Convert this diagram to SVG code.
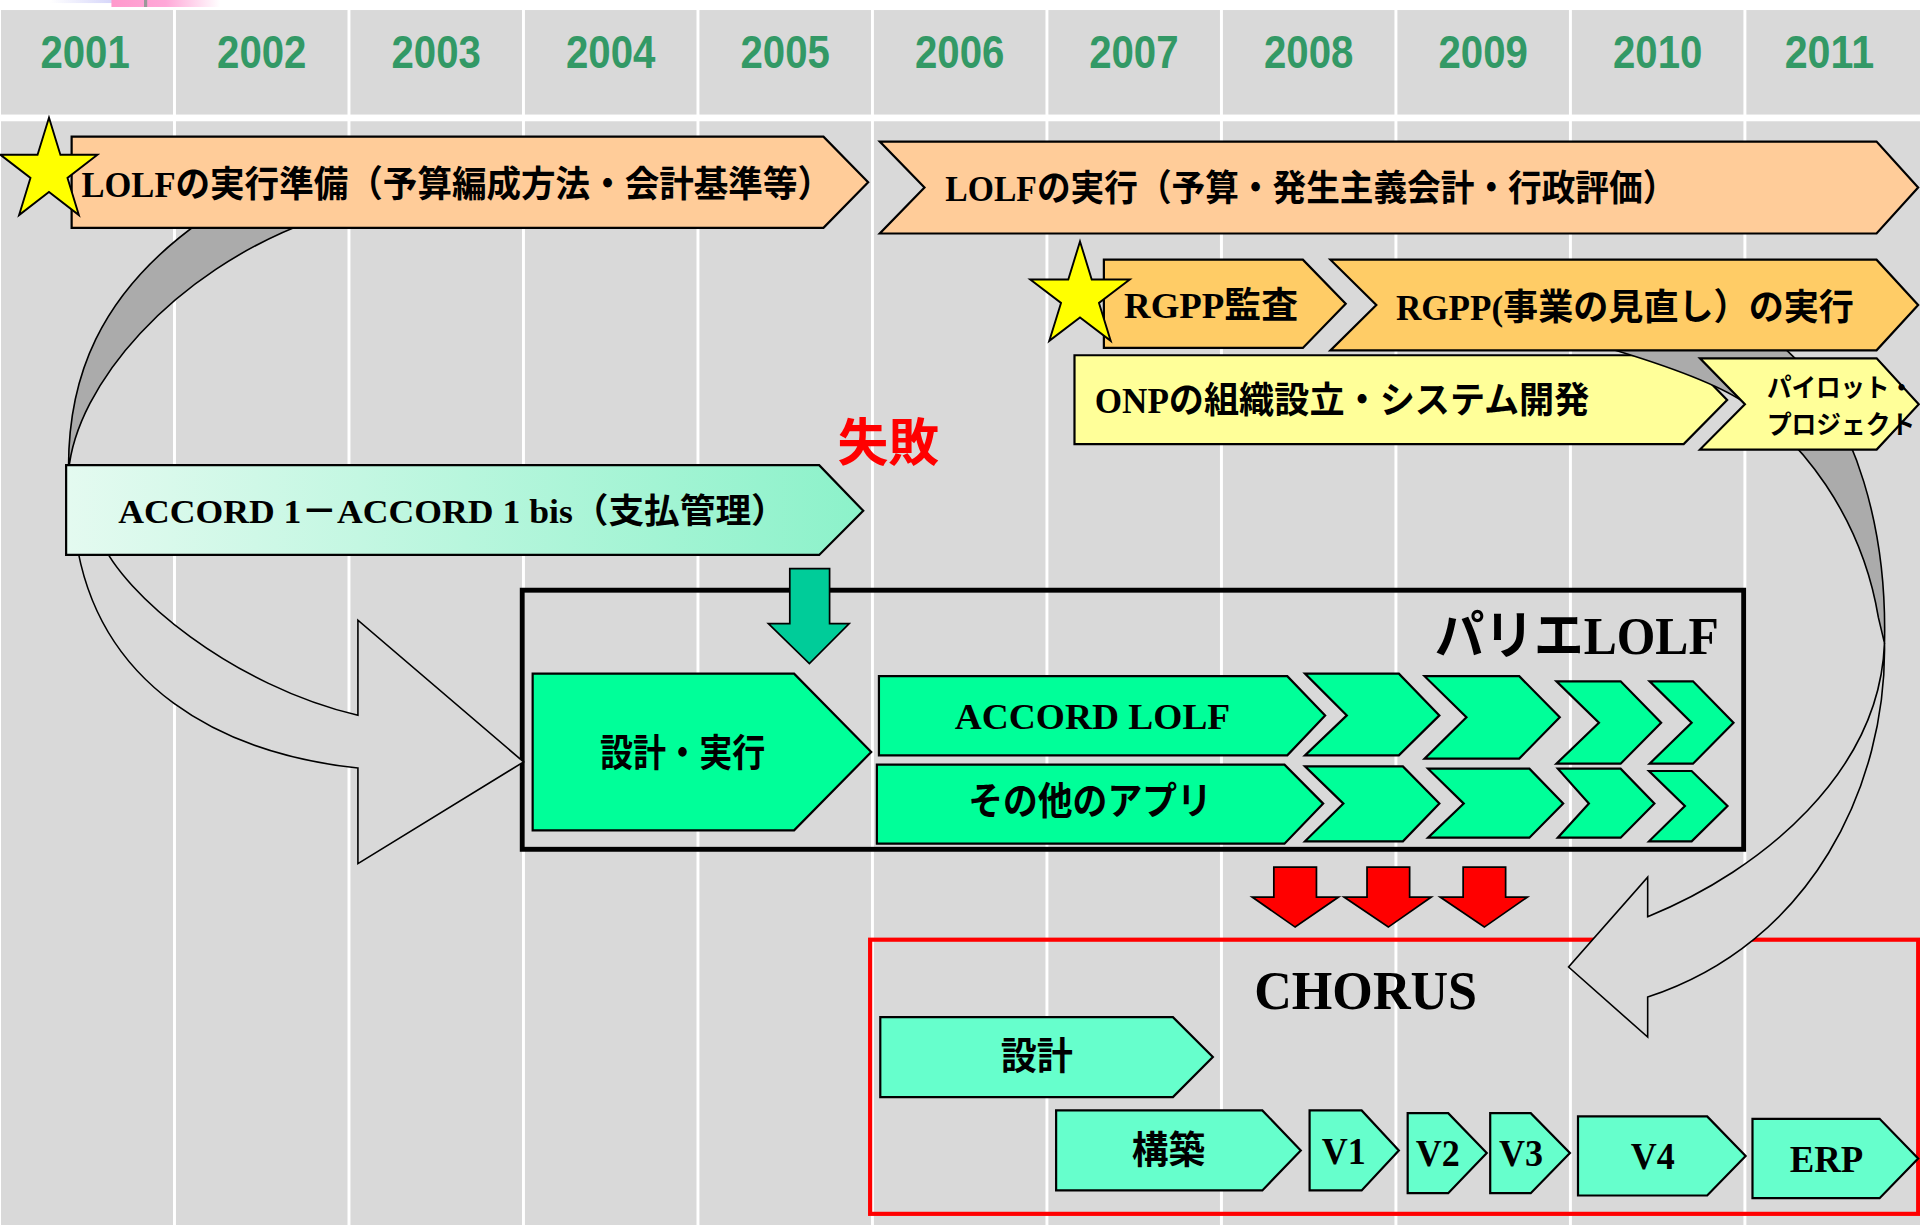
<svg xmlns="http://www.w3.org/2000/svg" width="1920" height="1225" viewBox="0 0 1920 1225">
<defs>
<style>
.grid{fill:#D9D9D9}
.vl{fill:#FFFFFF}
.yr{font-family:'Liberation Sans',Arial,sans-serif;font-weight:bold;font-size:38.5px;fill:#339966;text-anchor:middle}
.t{font-family:'Liberation Serif','Noto Sans CJK JP',serif;font-weight:bold;fill:#000}
.j{font-family:'Noto Sans CJK JP',sans-serif;font-weight:bold;fill:#000}
.sh{stroke:#000;stroke-width:1.8;stroke-linejoin:miter}
.org{fill:#FFCC99}
.rg{fill:#FFCC66}
.yel{fill:#FFFF99}
.grn{fill:#00FF99}
.mint{fill:#66FFCC}
.cres{fill:#ABABAB;stroke:#000;stroke-width:1.3;stroke-linejoin:round}
.band{fill:#D9D9D9;stroke:#000;stroke-width:1.3;stroke-linejoin:miter}
.star{fill:#FFFF00;stroke:#000;stroke-width:1.6}
.redarr{fill:#FF0000;stroke:#000;stroke-width:1.4}
</style>
<linearGradient id="accg" x1="0" y1="0" x2="1" y2="0">
<stop offset="0" stop-color="#E4FAF0"/>
<stop offset="1" stop-color="#8CF2CA"/>
</linearGradient>
<linearGradient id="lav" x1="0" y1="0" x2="1" y2="0">
<stop offset="0" stop-color="#FFFFFF"/>
<stop offset="1" stop-color="#C8C8F8"/>
</linearGradient>
<linearGradient id="pink" x1="0" y1="0" x2="1" y2="0">
<stop offset="0" stop-color="#FF99CC"/>
<stop offset="0.5" stop-color="#FFA8D8"/>
<stop offset="1" stop-color="#FFFFFF"/>
</linearGradient>
<path id="starp" d="M0,-44 L9.87,-13.59 L41.85,-13.6 L15.98,5.19 L25.86,35.6 L0,16.8 L-25.86,35.6 L-15.98,5.19 L-41.85,-13.6 L-9.87,-13.59 Z"/>
</defs>
<rect x="0" y="0" width="1920" height="1225" fill="#FFFFFF"/>
<g transform="scale(1.22449 1.225)">
<g id="background">
<rect x="41" y="0" width="68" height="2.5" fill="url(#lav)"/>
<rect x="91" y="0" width="89" height="5.7" fill="url(#pink)"/>
<rect x="117.6" y="0" width="2.6" height="5.7" fill="#999999"/>
<rect class="grid" x="0.8" y="8.2" width="1567.2" height="85.3"/>
<rect class="grid" x="0.8" y="99" width="1567.2" height="901"/>
<rect class="vl" x="141.3" y="8" width="2.4" height="992"/>
<rect class="vl" x="283.8" y="8" width="2.4" height="992"/>
<rect class="vl" x="426.3" y="8" width="2.4" height="992"/>
<rect class="vl" x="568.8" y="8" width="2.4" height="992"/>
<rect class="vl" x="711.3" y="8" width="2.4" height="992"/>
<rect class="vl" x="853.8" y="8" width="2.4" height="992"/>
<rect class="vl" x="996.3" y="8" width="2.4" height="992"/>
<rect class="vl" x="1138.8" y="8" width="2.4" height="992"/>
<rect class="vl" x="1281.3" y="8" width="2.4" height="992"/>
<rect class="vl" x="1423.8" y="8" width="2.4" height="992"/>
</g>
<g id="years">
<text class="yr" x="69.5" y="55.6" textLength="73" lengthAdjust="spacingAndGlyphs">2001</text>
<text class="yr" x="213.75" y="55.6" textLength="73" lengthAdjust="spacingAndGlyphs">2002</text>
<text class="yr" x="356.25" y="55.6" textLength="73" lengthAdjust="spacingAndGlyphs">2003</text>
<text class="yr" x="498.75" y="55.6" textLength="73" lengthAdjust="spacingAndGlyphs">2004</text>
<text class="yr" x="641.25" y="55.6" textLength="73" lengthAdjust="spacingAndGlyphs">2005</text>
<text class="yr" x="783.75" y="55.6" textLength="73" lengthAdjust="spacingAndGlyphs">2006</text>
<text class="yr" x="926" y="55.6" textLength="73" lengthAdjust="spacingAndGlyphs">2007</text>
<text class="yr" x="1068.75" y="55.6" textLength="73" lengthAdjust="spacingAndGlyphs">2008</text>
<text class="yr" x="1211.25" y="55.6" textLength="73" lengthAdjust="spacingAndGlyphs">2009</text>
<text class="yr" x="1353.75" y="55.6" textLength="73" lengthAdjust="spacingAndGlyphs">2010</text>
<text class="yr" x="1494" y="55.6" textLength="73" lengthAdjust="spacingAndGlyphs">2011</text>
</g>
<g id="chorus-frame">
<rect x="710.6" y="767.1" width="855.9" height="223.8" fill="none" stroke="#FF0000" stroke-width="3.4"/>
<text class="t" x="1024.3" y="823.5" font-size="45" textLength="182" lengthAdjust="spacingAndGlyphs">CHORUS</text>
</g>
<g id="parie-lolf-frame">
<rect x="426.5" y="481.8" width="997.5" height="211.5" fill="none" stroke="#000" stroke-width="4"/>
<text class="t" x="1171.7" y="533.5" font-size="43" textLength="232" lengthAdjust="spacingAndGlyphs">パリエLOLF</text>
</g>
<g id="onp">
<polygon class="sh yel" points="877.5,290 1375,290 1410.5,326.5 1375,362.5 877.5,362.5"/>
<text class="t" x="894" y="337.5" font-size="30" textLength="404" lengthAdjust="spacingAndGlyphs">ONPの組織設立・システム開発</text>
</g>
<g id="connectors">
<path class="cres" d="M165,180 C80,240 55,310 56,385 C62,315 140,222 255,180 Z"/>
<path class="band" d="M62,440 C80,560 180,615 292.3,627 L292.3,705 L427.6,622 L292.3,506.3 L292.3,583.9 C190,560 100,485 82,440 Z"/>
<path class="cres" d="M1313,284 C1360,298 1400,312 1424,328 C1470,358 1520,420 1534,504 L1539,525 C1541,440 1520,340 1455,282 Z"/>
<path class="band" d="M1539,525 C1541,640 1480,770 1345.6,813.9 L1345.6,846.6 L1281,789.4 L1345.6,716 L1345.6,748.3 C1440,710 1535,630 1539,525 Z"/>
<polygon fill="#00CC99" stroke="#000" stroke-width="1.4" points="645,464.1 677.5,464.1 677.5,509 693.5,509 661,541.7 627.5,509 645,509"/>
<polygon class="redarr" points="1040.3,707.8 1075.1,707.8 1075.1,732.3 1093.2,732.3 1057.7,756.8 1022.6,732.3 1040.3,732.3"/>
<polygon class="redarr" points="1116.4,707.8 1151.2,707.8 1151.2,732.3 1168.9,732.3 1133.8,756.8 1097.6,732.3 1116.4,732.3"/>
<polygon class="redarr" points="1194.9,707.8 1229.6,707.8 1229.6,732.3 1247.4,732.3 1212.2,756.8 1176.1,732.3 1194.9,732.3"/>
</g>
<g id="lolf-prep">
<polygon class="sh org" points="58.5,111.6 672.5,111.6 709,148.8 672.5,186 58.5,186"/>
<text class="t" x="66.5" y="161" font-size="30" textLength="613" lengthAdjust="spacingAndGlyphs">LOLFの実行準備（予算編成方法・会計基準等）</text>
</g>
<g id="star-2001">
<use href="#starp" class="star" transform="translate(40 140) scale(0.945 1)"/>
</g>
<g id="lolf-exec">
<polygon class="sh org" points="718.5,115.6 1532.5,115.6 1566.5,153 1532.5,190.6 718.5,190.6 755,153"/>
<text class="t" x="772" y="164" font-size="30" textLength="597" lengthAdjust="spacingAndGlyphs">LOLFの実行（予算・発生主義会計・行政評価）</text>
</g>
<g id="rgpp-audit">
<polygon class="sh rg" points="901.5,212 1064,212 1099,248 1064,284 901.5,284"/>
<text class="t" x="918" y="259.5" font-size="30" textLength="142" lengthAdjust="spacingAndGlyphs">RGPP監査</text>
</g>
<g id="star-2007">
<use href="#starp" class="star" transform="translate(882 242) scale(0.97 1.02)"/>
</g>
<g id="rgpp-exec">
<polygon class="sh rg" points="1086.5,212 1532.5,212 1566.5,249 1532.5,286 1086.5,286 1124,249"/>
<text class="t" x="1140" y="261" font-size="30" textLength="374" lengthAdjust="spacingAndGlyphs">RGPP(事業の見直し）の実行</text>
</g>
<g id="pilot">
<polygon class="sh yel" points="1388.3,292.5 1532.6,292.5 1567,330 1532.6,367 1388.3,367 1425,330"/>
<text class="j" x="1443" y="324" font-size="21" textLength="120" lengthAdjust="spacingAndGlyphs">パイロット・</text>
<text class="j" x="1443" y="354" font-size="21" textLength="121" lengthAdjust="spacingAndGlyphs">プロジェクト</text>
</g>
<g id="accord1">
<polygon class="sh" fill="url(#accg)" points="54,379.7 669,379.7 705,417 669,453 54,453"/>
<text class="t" x="96.5" y="426.6" font-size="28" textLength="546" lengthAdjust="spacingAndGlyphs">ACCORD 1－ACCORD 1 bis（支払管理）</text>
</g>
<g id="failure">
<text class="j" x="684" y="376" font-size="42" textLength="83" lengthAdjust="spacingAndGlyphs" style="fill:#FF0000">失敗</text>
</g>
<g id="design-exec">
<polygon class="sh grn" points="435,549.9 648.5,549.9 711.5,613.9 648.5,677.8 435,677.8"/>
<text class="t" x="490" y="625.5" font-size="31" textLength="135" lengthAdjust="spacingAndGlyphs">設計・実行</text>
</g>
<g id="accord-lolf">
<polygon class="sh grn" points="717.8,552 1051.3,552 1082.2,584 1051.3,616.6 717.8,616.6"/>
<text class="t" x="779.7" y="594.8" font-size="30" textLength="225" lengthAdjust="spacingAndGlyphs">ACCORD LOLF</text>
<polygon class="sh grn" points="1065.7,549.9 1142.4,549.9 1175.5,584 1142.4,616.6 1065.7,616.6 1099.9,584"/>
<polygon class="sh grn" points="1163.4,552 1240.7,552 1273.8,585.5 1240.7,619.3 1163.4,619.3 1197.6,585.5"/>
<polygon class="sh grn" points="1271.1,556.2 1323.5,556.2 1356.6,590 1323.5,623.4 1271.1,623.4 1305.8,590"/>
<polygon class="sh grn" points="1347.2,556.2 1382.6,556.2 1415.7,590 1382.6,623.4 1347.2,623.4 1381.5,590"/>
</g>
<g id="other-apps">
<polygon class="sh grn" points="716.1,624.2 1049,624.2 1080.6,656 1049,688.7 716.1,688.7"/>
<text class="t" x="790.7" y="664.5" font-size="31" textLength="199" lengthAdjust="spacingAndGlyphs">その他のアプリ</text>
<polygon class="sh grn" points="1065.7,625.6 1145.7,625.6 1175.5,656 1145.7,686.8 1065.7,686.8 1097.1,656"/>
<polygon class="sh grn" points="1166.2,627.5 1249,627.5 1276.6,656 1249,683.8 1166.2,683.8 1195.4,656"/>
<polygon class="sh grn" points="1272.2,627.5 1323.5,627.5 1351.1,656 1323.5,683.8 1272.2,683.8 1297.6,656"/>
<polygon class="sh grn" points="1346.7,629.4 1381.5,629.4 1410.8,658 1381.5,686.8 1346.7,686.8 1376,658"/>
</g>
<g id="chorus-design">
<polygon class="sh mint" points="718.9,830.3 957.9,830.3 990.5,862.9 957.9,895.6 718.9,895.6"/>
<text class="t" x="817.2" y="872.5" font-size="31" textLength="59" lengthAdjust="spacingAndGlyphs">設計</text>
</g>
<g id="chorus-build">
<polygon class="sh mint" points="862.5,906.5 1030.9,906.5 1062.3,939.1 1030.9,971.8 862.5,971.8"/>
<text class="t" x="924.3" y="949" font-size="31" textLength="60" lengthAdjust="spacingAndGlyphs">構築</text>
</g>
<g id="chorus-v1">
<polygon class="sh mint" points="1069.5,906.5 1112,906.5 1142.4,939.1 1112,971.8 1069.5,971.8"/>
<text class="t" x="1079.4" y="950" font-size="31" textLength="36" lengthAdjust="spacingAndGlyphs">V1</text>
</g>
<g id="chorus-v2">
<polygon class="sh mint" points="1149.6,908.7 1182.7,908.7 1214.2,941.3 1182.7,974 1149.6,974"/>
<text class="t" x="1156.2" y="952" font-size="31" textLength="36" lengthAdjust="spacingAndGlyphs">V2</text>
</g>
<g id="chorus-v3">
<polygon class="sh mint" points="1217,908.7 1250.1,908.7 1282.1,941.3 1250.1,974 1217,974"/>
<text class="t" x="1224.1" y="952" font-size="31" textLength="36" lengthAdjust="spacingAndGlyphs">V3</text>
</g>
<g id="chorus-v4">
<polygon class="sh mint" points="1288.7,911.4 1394.2,911.4 1425.6,943.6 1394.2,975.9 1288.7,975.9"/>
<text class="t" x="1331.8" y="954" font-size="31" textLength="36" lengthAdjust="spacingAndGlyphs">V4</text>
</g>
<g id="chorus-erp">
<polygon class="sh mint" points="1431.2,913.3 1535,913.3 1566.5,945.7 1535,978.1 1431.2,978.1"/>
<text class="t" x="1461.6" y="957" font-size="31" textLength="60" lengthAdjust="spacingAndGlyphs">ERP</text>
</g>
</g>
</svg>
